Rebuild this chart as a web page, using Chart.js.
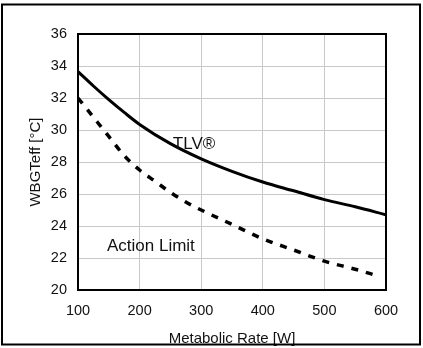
<!DOCTYPE html>
<html>
<head>
<meta charset="utf-8">
<script src="https://cdn.jsdelivr.net/npm/chart.js@4"></script>
<style>
  html, body { margin: 0; padding: 0; background: #fff; }
  #wrap { width: 423px; height: 348px; position: relative; }
</style>
</head>
<body>
<div id="wrap"><canvas id="chart" width="423" height="348"></canvas></div>
<script>
// Data
const tlvRate = [100, 125, 150, 175, 200, 250, 300, 350, 400, 450, 500, 550, 600];
const tlvTemp = [33.65, 32.75, 31.9, 31.1, 30.35, 29.15, 28.2, 27.42, 26.75, 26.2, 25.65, 25.2, 24.7];

const actionRate = [100, 125, 150, 175, 200, 225, 250, 275, 300, 350, 400, 450, 500, 550, 585];
const actionTemp = [32.0, 30.8, 29.6, 28.4, 27.5, 26.8, 26.1, 25.5, 25.0, 24.1, 23.2, 22.5, 21.8, 21.3, 20.9];

const xTicks = [100, 200, 300, 400, 500, 600];
const yTicks = [20, 22, 24, 26, 28, 30, 32, 34, 36];

// curve labels placed in data coordinates
const curveLabels = [
    { text: 'TLV\u00AE', x: 254, y: 29.1 },
    { text: 'Action Limit', x: 147, y: 22.7 }
];

const FONT = '"Liberation Sans", Arial, sans-serif';

// Frame round the whole picture, plot border and the curve labels
const decorations = {
    id: 'decorations',
    afterDatasetsDraw(chart) {
        const ctx = chart.ctx;
        const a = chart.chartArea;
        ctx.save();
        ctx.strokeStyle = '#000';
        ctx.lineWidth = 2;
        ctx.strokeRect(a.left, a.top, a.right - a.left, a.bottom - a.top);
        ctx.strokeRect(2, 4.5, 418, 340);

        ctx.fillStyle = '#111';
        ctx.font = '17px ' + FONT;
        ctx.textBaseline = 'middle';
        curveLabels.forEach(l => {
            ctx.fillText(l.text, chart.scales.x.getPixelForValue(l.x), chart.scales.y.getPixelForValue(l.y));
        });
        ctx.restore();
    }
};

new Chart(document.getElementById('chart'), {
    type: 'line',
    data: {
        datasets: [
            {
                label: 'TLV',
                data: tlvRate.map((r, i) => ({ x: r, y: tlvTemp[i] })),
                borderColor: '#000',
                borderWidth: 3,
                pointRadius: 0,
                cubicInterpolationMode: 'monotone',
                fill: false
            },
            {
                label: 'Action Limit',
                data: actionRate.map((r, i) => ({ x: r, y: actionTemp[i] })),
                borderColor: '#000',
                borderWidth: 3.5,
                borderDash: [7, 8],
                pointRadius: 0,
                cubicInterpolationMode: 'monotone',
                fill: false
            }
        ]
    },
    options: {
        responsive: false,
        animation: false,
        layout: { padding: { top: 34, right: 37, left: 0, bottom: 0 } },
        plugins: {
            legend: { display: false },
            tooltip: { enabled: false }
        },
        scales: {
            x: {
                type: 'linear',
                min: 100,
                max: 600,
                afterBuildTicks: s => { s.ticks = xTicks.map(v => ({ value: v })); },
                afterFit: s => { s.height = 58; },
                grid: { color: '#c8c8c8', lineWidth: 1, drawTicks: false },
                border: { display: false },
                ticks: { color: '#111', font: { family: FONT, size: 14.5 }, padding: 12 },
                title: {
                    display: true,
                    text: 'Metabolic Rate [W]',
                    color: '#111',
                    font: { family: FONT, size: 15 },
                    padding: { top: 2, bottom: 0 }
                }
            },
            y: {
                min: 20,
                max: 36,
                afterBuildTicks: s => { s.ticks = yTicks.map(v => ({ value: v })); },
                afterFit: s => { s.width = 78; },
                grid: { color: '#c8c8c8', lineWidth: 1, drawTicks: false },
                border: { display: false },
                ticks: { color: '#111', font: { family: FONT, size: 14.5 }, padding: 11 },
                title: {
                    display: true,
                    text: 'WBGTeff [\u00B0C]',
                    color: '#111',
                    font: { family: FONT, size: 15 },
                    padding: { top: 27, bottom: 0 }
                }
            }
        }
    },
    plugins: [decorations]
});
</script>
</body>
</html>
